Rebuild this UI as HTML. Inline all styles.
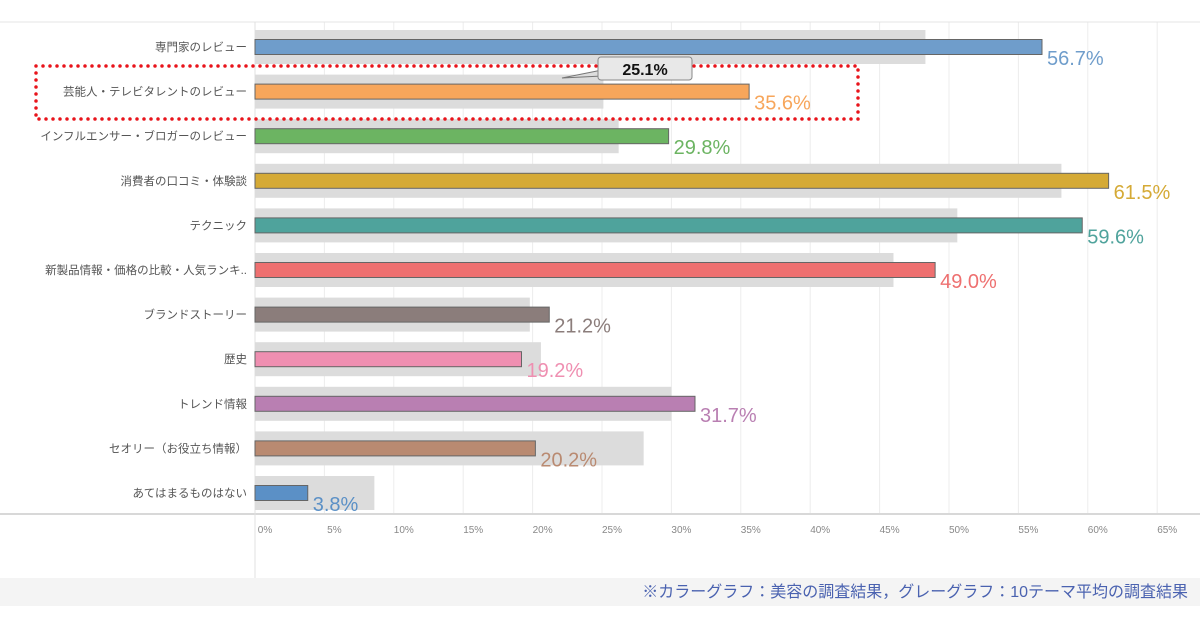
<!DOCTYPE html>
<html><head><meta charset="utf-8"><style>
body{margin:0;width:1200px;height:630px;background:#fff;overflow:hidden;font-family:"Liberation Sans","Noto Sans CJK JP",sans-serif}
</style></head><body>
<svg id="chart" width="1200" height="630" xmlns="http://www.w3.org/2000/svg" font-family="Liberation Sans, Noto Sans CJK JP, sans-serif"></svg>
<script>
const categories=["専門家のレビュー","芸能人・テレビタレントのレビュー","インフルエンサー・ブロガーのレビュー","消費者の口コミ・体験談","テクニック","新製品情報・価格の比較・人気ランキ..","ブランドストーリー","歴史","トレンド情報","セオリー（お役立ち情報）","あてはまるものはない"];
const beautyValues=[56.7,35.6,29.8,61.5,59.6,49.0,21.2,19.2,31.7,20.2,3.8];
const averageValues=[48.3,25.1,26.2,58.1,50.6,46.0,19.8,20.6,30.0,28.0,8.6];
const tickLabels=["0%","5%","10%","15%","20%","25%","30%","35%","40%","45%","50%","55%","60%","65%"];
const tickValues=[0,5,10,15,20,25,30,35,40,45,50,55,60,65];
const colors=["#6f9dcb","#f7a65b","#6cb462","#d5aa36","#4fa39c","#ee7070","#8b7d7b","#ef8fb1","#b97fb2","#b98a71","#5b90c6"];
const svg=document.getElementById('chart');const NS="http://www.w3.org/2000/svg";
const x=v=>255+v*13.88;const y=i=>47+i*44.6;
function mk(t,a,txt){const e=document.createElementNS(NS,t);for(const k in a)e.setAttribute(k,a[k]);if(txt!==undefined)e.textContent=txt;svg.appendChild(e);return e;}
let e;
e=mk('rect',{x:0,y:578,width:1200,height:28,fill:"#f4f4f4"});


tickValues.forEach((v,i)=>{
 e=mk('line',{x1:x(v),x2:x(v),y1:22,y2:514,stroke:"#ececec","stroke-width":1});
 
 
 e=mk('text',{x:x(v)+10,y:533,"font-size":10,fill:"#888","text-anchor":"middle"},tickLabels[i]);
 
 
});
e=mk('line',{x1:0,x2:1200,y1:22,y2:22,stroke:"#e4e4e4"});


e=mk('line',{x1:0,x2:1200,y1:514,y2:514,stroke:"#d8d8d8","stroke-width":2});


e=mk('line',{x1:255,x2:255,y1:22,y2:578,stroke:"#e0e0e0"});


categories.forEach((c,i)=>{
 const cy=y(i);
 e=mk('rect',{x:255,y:cy-17,width:x(averageValues[i])-255,height:34,fill:"#dcdcdc"});
 
 
 e=mk('rect',{x:255,y:cy-7.5,width:x(beautyValues[i])-255,height:15,fill:colors[i],stroke:"#666","stroke-width":1});
 
 
 e=mk('text',{x:x(beautyValues[i])+5,y:cy+18,"font-size":20,fill:colors[i]},beautyValues[i].toFixed(1)+"%");
 
 
 e=mk('text',{x:247,y:cy+4,"font-size":11.5,fill:"#555","text-anchor":"end"},c);
 
 
});
e=mk('rect',{x:36,y:66,width:822,height:53,fill:"none",stroke:"#e8141b","stroke-width":3.5,"stroke-dasharray":"0 7","stroke-linecap":"round"});


e=mk('path',{d:"M562 78 L602 70 L602 76 Z",fill:"#ddd",stroke:"#777"});


e=mk('rect',{x:598,y:57,width:94,height:23,rx:3,fill:"#e8e8e8",stroke:"#888"});


e=mk('text',{x:645,y:75,"font-size":16,"font-weight":"bold",fill:"#111","text-anchor":"middle"},averageValues[1].toFixed(1)+"%");


e=mk('text',{x:1188,y:597,"font-size":16,fill:"#4a62b0","text-anchor":"end"},"※カラーグラフ：美容の調査結果，グレーグラフ：10テーマ平均の調査結果");


</script>
</body></html>
